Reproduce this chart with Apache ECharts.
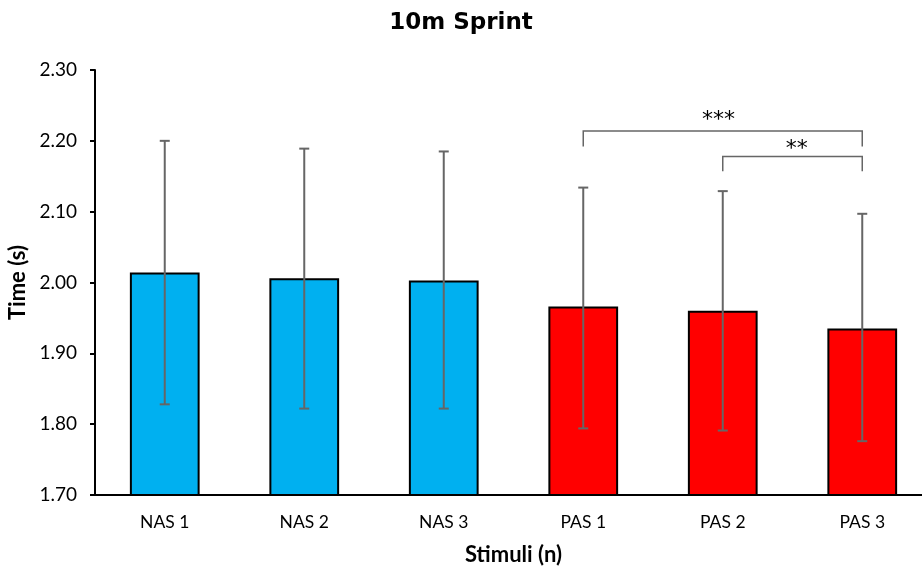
<!DOCTYPE html>
<html>
<head>
<meta charset="utf-8">
<script src="https://cdn.jsdelivr.net/npm/echarts@6/dist/echarts.min.js"></script>
<style>html,body{margin:0;padding:0;background:#fff;}#c{width:922px;height:567px;}</style>
</head>
<body>
<div id="c"></div>
<script>
const categories = ['NAS 1', 'NAS 2', 'NAS 3', 'PAS 1', 'PAS 2', 'PAS 3'];
const means = [2.014, 2.006, 2.003, 1.966, 1.960, 1.935];
const errLow = [1.828, 1.822, 1.822, 1.794, 1.791, 1.776];
const errHigh = [2.200, 2.189, 2.185, 2.134, 2.129, 2.097];
const barColors = ['#00B0F0', '#00B0F0', '#00B0F0', '#FF0000', '#FF0000', '#FF0000'];
// significance brackets: [from index, to index, top value, leg bottom value]
const brackets = [[3, 5, 2.214, 2.192], [4, 5, 2.178, 2.157]];
const bracketLabels = ['***', '**'];
const bracketLabelX = [3.97, 4.53];
const bracketLabelY = [2.2365, 2.1955];

const FONT = 'Lato';
const chart = echarts.init(document.getElementById('c'), null, {renderer: 'canvas'});

function coordAt(api, xv, yv) {
  // linear interpolation between neighbouring category positions
  const i0 = Math.floor(xv);
  const f = xv - i0;
  const p0 = api.coord([i0, yv]);
  const p1 = api.coord([i0 + 1, yv]);
  return [p0[0] + (p1[0] - p0[0]) * f, p0[1]];
}

chart.setOption({
  animation: false,
  title: {
    text: '10m Sprint', left: 'center', top: 7,
    textStyle: {fontFamily: 'DejaVu Sans', fontWeight: 'bold', fontSize: 23, color: '#000'}
  },
  grid: {left: 95, right: -10, top: 70, bottom: 72, containLabel: false, outerBoundsMode: 'none'},
  xAxis: {
    type: 'category', data: categories,
    name: 'Stimuli (n)', nameLocation: 'middle', nameGap: 49,
    nameTextStyle: {fontFamily: FONT, fontWeight: 'bold', fontSize: 22, color: '#000'},
    axisLine: {lineStyle: {color: '#000', width: 2}},
    axisTick: {show: false},
    axisLabel: {fontFamily: FONT, fontSize: 17.5, color: '#000', margin: 18}
  },
  yAxis: {
    type: 'value', min: 1.7, max: 2.3, interval: 0.1,
    name: 'Time (s)', nameLocation: 'middle', nameGap: 62, nameRotate: 90,
    nameTextStyle: {fontFamily: FONT, fontWeight: 'bold', fontSize: 22, color: '#000'},
    axisLine: {show: true, lineStyle: {color: '#000', width: 2}},
    axisTick: {show: true, length: 5, inside: false, lineStyle: {color: '#000', width: 2}},
    splitLine: {show: false},
    axisLabel: {fontFamily: FONT, fontSize: 19, color: '#000', margin: 18,
      formatter: v => v.toFixed(2)}
  },
  series: [
    {
      type: 'bar', barWidth: '50%',
      data: means.map((v, i) => ({value: v, itemStyle: {color: barColors[i]}})),
      itemStyle: {borderColor: '#000', borderWidth: 2},
      clip: true, z: 2
    },
    {
      type: 'custom', z: 5,
      data: means.map((v, i) => [i, errLow[i], errHigh[i]]),
      renderItem: function (params, api) {
        const lo = api.coord([api.value(0), api.value(1)]);
        const hi = api.coord([api.value(0), api.value(2)]);
        const c = 5;
        const st = {stroke: '#666', lineWidth: 2};
        return {type: 'group', children: [
          {type: 'line', shape: {x1: lo[0], y1: lo[1], x2: hi[0], y2: hi[1]}, style: st},
          {type: 'line', shape: {x1: hi[0] - c, y1: hi[1], x2: hi[0] + c, y2: hi[1]}, style: st},
          {type: 'line', shape: {x1: lo[0] - c, y1: lo[1], x2: lo[0] + c, y2: lo[1]}, style: st}
        ]};
      }
    },
    {
      type: 'custom', z: 5,
      data: brackets.map((b, i) => [b[0], b[1], b[2], b[3], i]),
      renderItem: function (params, api) {
        const idx = api.value(4);
        const a = api.coord([api.value(0), api.value(2)]);
        const b = api.coord([api.value(1), api.value(2)]);
        const aL = api.coord([api.value(0), api.value(3)]);
        const bL = api.coord([api.value(1), api.value(3)]);
        const t = coordAt(api, bracketLabelX[idx], bracketLabelY[idx]);
        return {type: 'group', children: [
          {type: 'polyline', shape: {points: [[aL[0], aL[1]], [a[0], a[1]], [b[0], b[1]], [bL[0], bL[1]]]},
            style: {stroke: '#666', lineWidth: 1.5, fill: null}},
          {type: 'text', x: t[0], y: t[1] + 5,
            style: {text: bracketLabels[idx], fontFamily: 'DejaVu Sans', fontSize: 22, fill: '#000',
              align: 'center', verticalAlign: 'middle'}}
        ]};
      }
    }
  ]
});
</script>
</body>
</html>
